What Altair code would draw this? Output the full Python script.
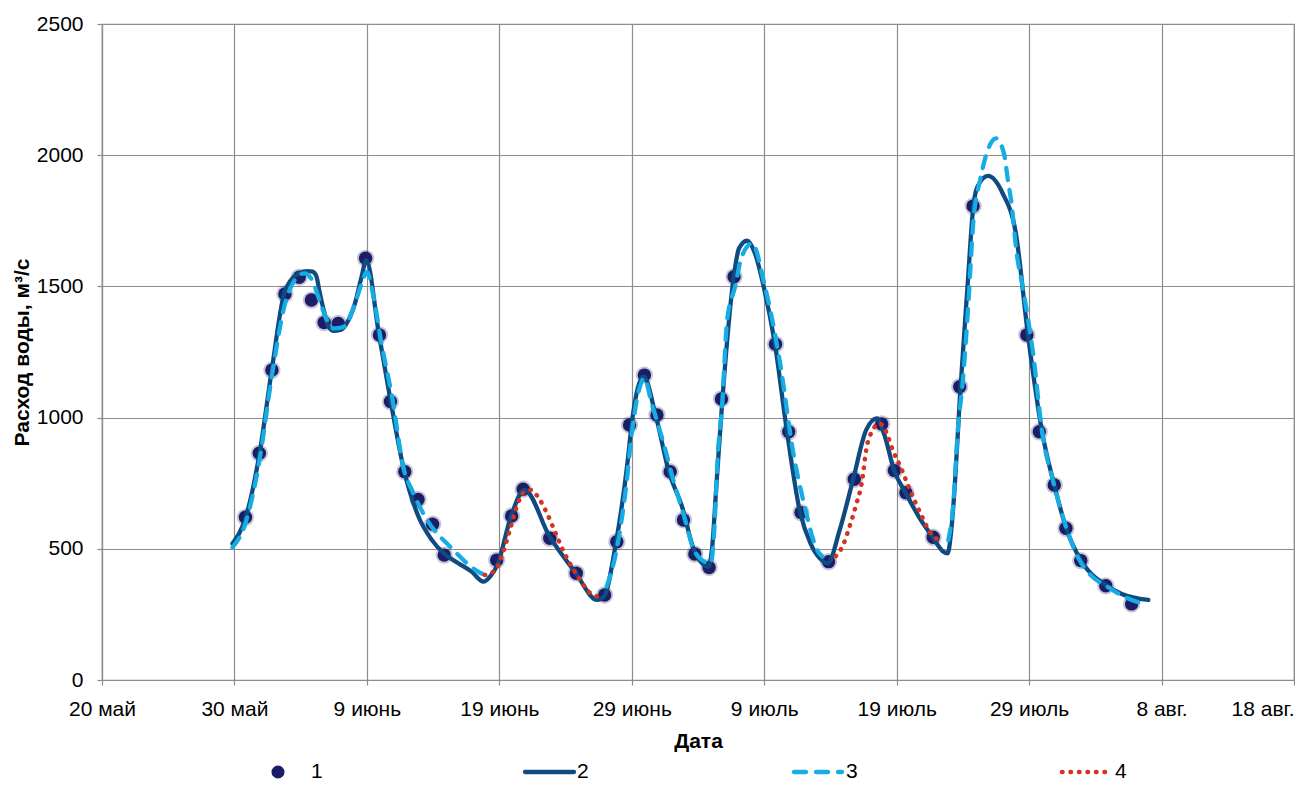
import altair as alt
import pandas as pd

# ---------------- data (day = days since 20 May) ----------------
X_LABELS = ["20 май", "30 май", "9 июнь", "19 июнь", "29 июнь",
            "9 июль", "19 июль", "29 июль", "8 авг.", "18 авг."]
X_TICKS = [0, 10, 20, 30, 40, 50, 60, 70, 80, 90]
Y_TICKS = [0, 500, 1000, 1500, 2000, 2500]

# series 1: observed (points)
obs_day = [10.83, 11.88, 12.83, 13.81, 14.89, 15.81, 16.77, 17.84, 19.90, 20.95,
           21.78, 22.86, 23.86, 24.96, 25.84, 29.80, 30.93, 31.80, 33.81, 35.81,
           37.95, 38.87, 39.83, 40.95, 41.90, 42.90, 43.90, 44.76, 45.84, 46.77,
           47.72, 50.85, 51.85, 52.78, 54.86, 56.80, 58.87, 59.83, 60.70, 62.76,
           64.76, 65.77, 69.83, 70.77, 71.90, 72.78, 73.90, 75.79, 77.74]
obs_val = [620, 864, 1181, 1471, 1535, 1448, 1362, 1359, 1607, 1315,
           1061, 794, 688, 594, 476, 457, 625, 727, 540, 407,
           324, 527, 972, 1162, 1010, 794, 610, 480, 429, 1071,
           1537, 1280, 946, 638, 451, 765, 976, 798, 714, 544,
           1118, 1806, 1315, 946, 743, 578, 455, 359, 290]

# series 2: solid line
sol_day = [9.85, 10.85, 11.9, 12.8, 13.76, 14.26, 14.9, 15.5, 15.9, 16.2,
           16.4, 16.8, 17.1, 17.5, 18.0, 18.4, 19.1, 19.6, 19.95, 20.9,
           21.8, 22.8, 23.9, 24.9, 25.8, 26.9, 27.9, 28.8, 29.3, 29.9,
           30.8, 31.9, 33.8, 35.7, 37.4, 37.9, 38.8, 39.7, 40.0, 40.9,
           41.8, 42.8, 43.8, 44.7, 45.8, 46.05, 46.4, 46.85, 47.7, 48.1,
           48.7, 49.3, 50.0, 50.8, 51.7, 52.7, 53.5, 54.2, 54.8, 55.7,
           56.7, 57.7, 58.5, 59.1, 59.8, 60.7, 61.7, 62.7, 63.5, 63.85,
           64.1, 64.4, 64.76, 65.35, 65.8, 66.1, 66.9, 68.0, 69.0, 69.9,
           71.0, 71.9, 72.8, 73.9, 75.8, 77.0, 79.0]
sol_val = [520, 620, 865, 1175, 1474, 1524, 1550, 1558, 1556, 1537,
           1486, 1398, 1347, 1331, 1334, 1353, 1435, 1537, 1600, 1321,
           1061, 800, 622, 534, 483, 445, 413, 375, 394, 445,
           610, 724, 546, 413, 305, 318, 521, 838, 978, 1156,
           1010, 794, 660, 495, 432, 495, 750, 1074, 1537, 1645,
           1674, 1626, 1490, 1283, 953, 641, 520, 464, 445, 572,
           762, 953, 997, 930, 800, 711, 620, 546, 490, 483,
           559, 750, 1067, 1500, 1810, 1880, 1921, 1855, 1702, 1321,
           940, 743, 578, 457, 362, 328, 305]

# series 3: dashed line (three pieces)
dash_day = [9.85, 10.85, 11.9, 12.8, 13.8, 14.5, 15.3, 15.9, 16.4, 17.0,
            17.5, 18.2, 19.0, 19.6, 20.0, 20.5, 21.1, 21.9, 22.8, 23.4,
            24.4, 26.4, 28.4, 28.7,
            38.1, 38.9, 39.6, 40.0, 40.7, 40.95, 41.5, 42.4, 43.2, 43.96,
            44.6, 45.3, 45.96, 46.2, 46.5, 46.8, 47.2, 47.8, 48.3, 49.1,
            50.0, 51.2, 52.2, 53.0, 54.0, 54.4,
            63.9, 64.3, 64.6, 65.0, 65.4, 65.8, 66.3, 67.1, 67.5, 68.1,
            68.4, 68.7, 69.0, 69.6, 70.3, 71.0, 71.8, 72.8, 73.8, 76.3,
            78.8]
dash_val = [505, 600, 840, 1150, 1430, 1520, 1550, 1520, 1450, 1370,
            1340, 1345, 1420, 1510, 1555, 1460, 1283, 1080, 800, 724,
            622, 502, 413, 405,
            356, 508, 750, 940, 1131, 1150, 1054, 902, 750, 622,
            508, 457, 445, 546, 864, 1030, 1372, 1499, 1613, 1664,
            1512, 1207, 864, 673, 495, 470,
            533, 686, 940, 1143, 1423, 1753, 1905, 2045, 2064, 2007,
            1905, 1804, 1652, 1474, 1245, 940, 760, 582, 457, 343,
            286]
dash_seg = [1] * 24 + [2] * 26 + [3] * 21

# series 4: dotted line (two pieces)
dot_day = [28.9, 29.7, 30.3, 30.8, 31.4, 31.9, 32.4, 32.9, 33.6, 34.2,
           34.8, 35.4, 36.1, 36.9, 37.4,
           55.4, 55.9, 56.4, 56.9, 57.4, 57.7, 58.2, 58.7, 59.2, 59.7,
           60.4, 61.0, 61.8, 62.5, 63.5]
dot_val = [400, 419, 489, 572, 673, 717, 724, 699, 635, 565,
           495, 438, 381, 330, 318,
           472, 508, 578, 661, 762, 877, 953, 978, 946, 877,
           800, 724, 635, 565, 527]
dot_seg = [1] * 15 + [2] * 15

LEGEND_LABELS = ["1", "2", "3", "4"]

# ---------------- styling ----------------
W, H = 1192, 656
PAD_L, PAD_T, PAD_R, PAD_B = 94, 16, 1, 104
NAVY = "#1b1d66"
DARK_BLUE = "#0f4b80"
LIGHT_BLUE = "#17ade4"
RED = "#d5321f"
GRID = "#8c8c8c"
FONT = "Liberation Sans"

obs_df = pd.DataFrame({"day": obs_day, "value": obs_val})
sol_df = pd.DataFrame({"day": sol_day, "value": sol_val})
dash_df = pd.DataFrame({"day": dash_day, "value": dash_val, "seg": dash_seg})
dot_df = pd.DataFrame({"day": dot_day, "value": dot_val, "seg": dot_seg})

label_expr = "[" + ",".join("'" + s + "'" for s in X_LABELS) + "][round(datum.value/10)]"
last_tick = X_TICKS[-1]

x_enc = alt.X("day:Q",
              scale=alt.Scale(domain=[X_TICKS[0], last_tick], nice=False, zero=False),
              axis=alt.Axis(values=X_TICKS, labelExpr=label_expr, title="Дата",
                            labelAlign={"condition": {"test": f"datum.value >= {last_tick}",
                                                      "value": "right"},
                                        "value": "center"},
                            labelPadding=13, titlePadding=11, tickSize=5))
y_enc = alt.Y("value:Q",
              scale=alt.Scale(domain=[Y_TICKS[0], Y_TICKS[-1]], nice=False),
              axis=alt.Axis(values=Y_TICKS, format="d", title="Расход воды, м³/с",
                            labelPadding=14, titlePadding=4, tickSize=5))

glow = alt.Chart(obs_df).mark_circle(size=300, color=NAVY, opacity=0.25).encode(x=x_enc, y=y_enc)
points = alt.Chart(obs_df).mark_circle(size=180, color=NAVY, opacity=1).encode(x=x_enc, y=y_enc)
solid = alt.Chart(sol_df).mark_line(color=DARK_BLUE, strokeWidth=4.3, interpolate="monotone",
                                    strokeCap="round").encode(x=x_enc, y=y_enc)
dashed = alt.Chart(dash_df).mark_line(color=LIGHT_BLUE, strokeWidth=4.3, interpolate="monotone",
                                      strokeDash=[12, 10], strokeCap="round").encode(
    x=x_enc, y=y_enc, detail="seg:N")
dotted = alt.Chart(dot_df).mark_line(color=RED, strokeWidth=4.5, interpolate="monotone",
                                     strokeDash=[0.5, 8], strokeCap="round").encode(
    x=x_enc, y=y_enc, detail="seg:N")

main = alt.layer(glow, points, solid, dashed, dotted)

# ---------------- legend (own independent scale, below the plot) ----------------
LEG_Y = H + 92
leg_layout = pd.DataFrame({
    "label": LEGEND_LABELS,
    "sym0": [176, 423, 692, 960],
    "sym1": [176, 472, 740, 1004],
    "tx": [209, 475, 744, 1013],
})
lx = alt.Scale(domain=[0, W], nice=False, zero=False)
leg_dot = alt.Chart(leg_layout.iloc[[0]]).mark_circle(size=170, color=NAVY, opacity=1).encode(
    x=alt.X("sym0:Q", scale=lx, axis=None), y=alt.value(LEG_Y))
leg_solid = alt.Chart(leg_layout.iloc[[1]]).mark_rule(color=DARK_BLUE, strokeWidth=4.3, strokeCap="round").encode(
    x=alt.X("sym0:Q", scale=lx, axis=None), x2="sym1:Q", y=alt.value(LEG_Y))
leg_dash = alt.Chart(leg_layout.iloc[[2]]).mark_rule(color=LIGHT_BLUE, strokeWidth=4.3, strokeCap="round",
                                                    strokeDash=[12, 10]).encode(
    x=alt.X("sym0:Q", scale=lx, axis=None), x2="sym1:Q", y=alt.value(LEG_Y))
leg_dotl = alt.Chart(leg_layout.iloc[[3]]).mark_rule(color=RED, strokeWidth=4.5, strokeCap="round",
                                                    strokeDash=[0.5, 8]).encode(
    x=alt.X("sym0:Q", scale=lx, axis=None), x2="sym1:Q", y=alt.value(LEG_Y))
leg_text = alt.Chart(leg_layout).mark_text(align="left", baseline="middle", fontSize=21,
                                           font=FONT, color="black").encode(
    x=alt.X("tx:Q", scale=lx, axis=None), y=alt.value(LEG_Y), text="label:N")
legend = alt.layer(leg_dot, leg_solid, leg_dash, leg_dotl, leg_text)

chart = alt.layer(main, legend).resolve_scale(x="independent").properties(
    width=W, height=H,
    autosize=alt.AutoSizeParams(type="none"),
    padding={"left": PAD_L, "top": PAD_T, "right": PAD_R, "bottom": PAD_B},
).configure_view(stroke=GRID, strokeWidth=1.2).configure_axis(
    labelFont=FONT, labelFontSize=21, labelColor="black",
    titleFont=FONT, titleFontSize=21, titleFontWeight="bold", titleColor="black",
    gridColor=GRID, gridWidth=1.2, gridOpacity=1,
    domainColor=GRID, domainWidth=1.2, tickColor=GRID, tickWidth=1.2,
).configure_axisX(grid=True).configure_axisY(grid=True)

chart.save("out.html", embed_options={"renderer": "svg", "actions": False})
